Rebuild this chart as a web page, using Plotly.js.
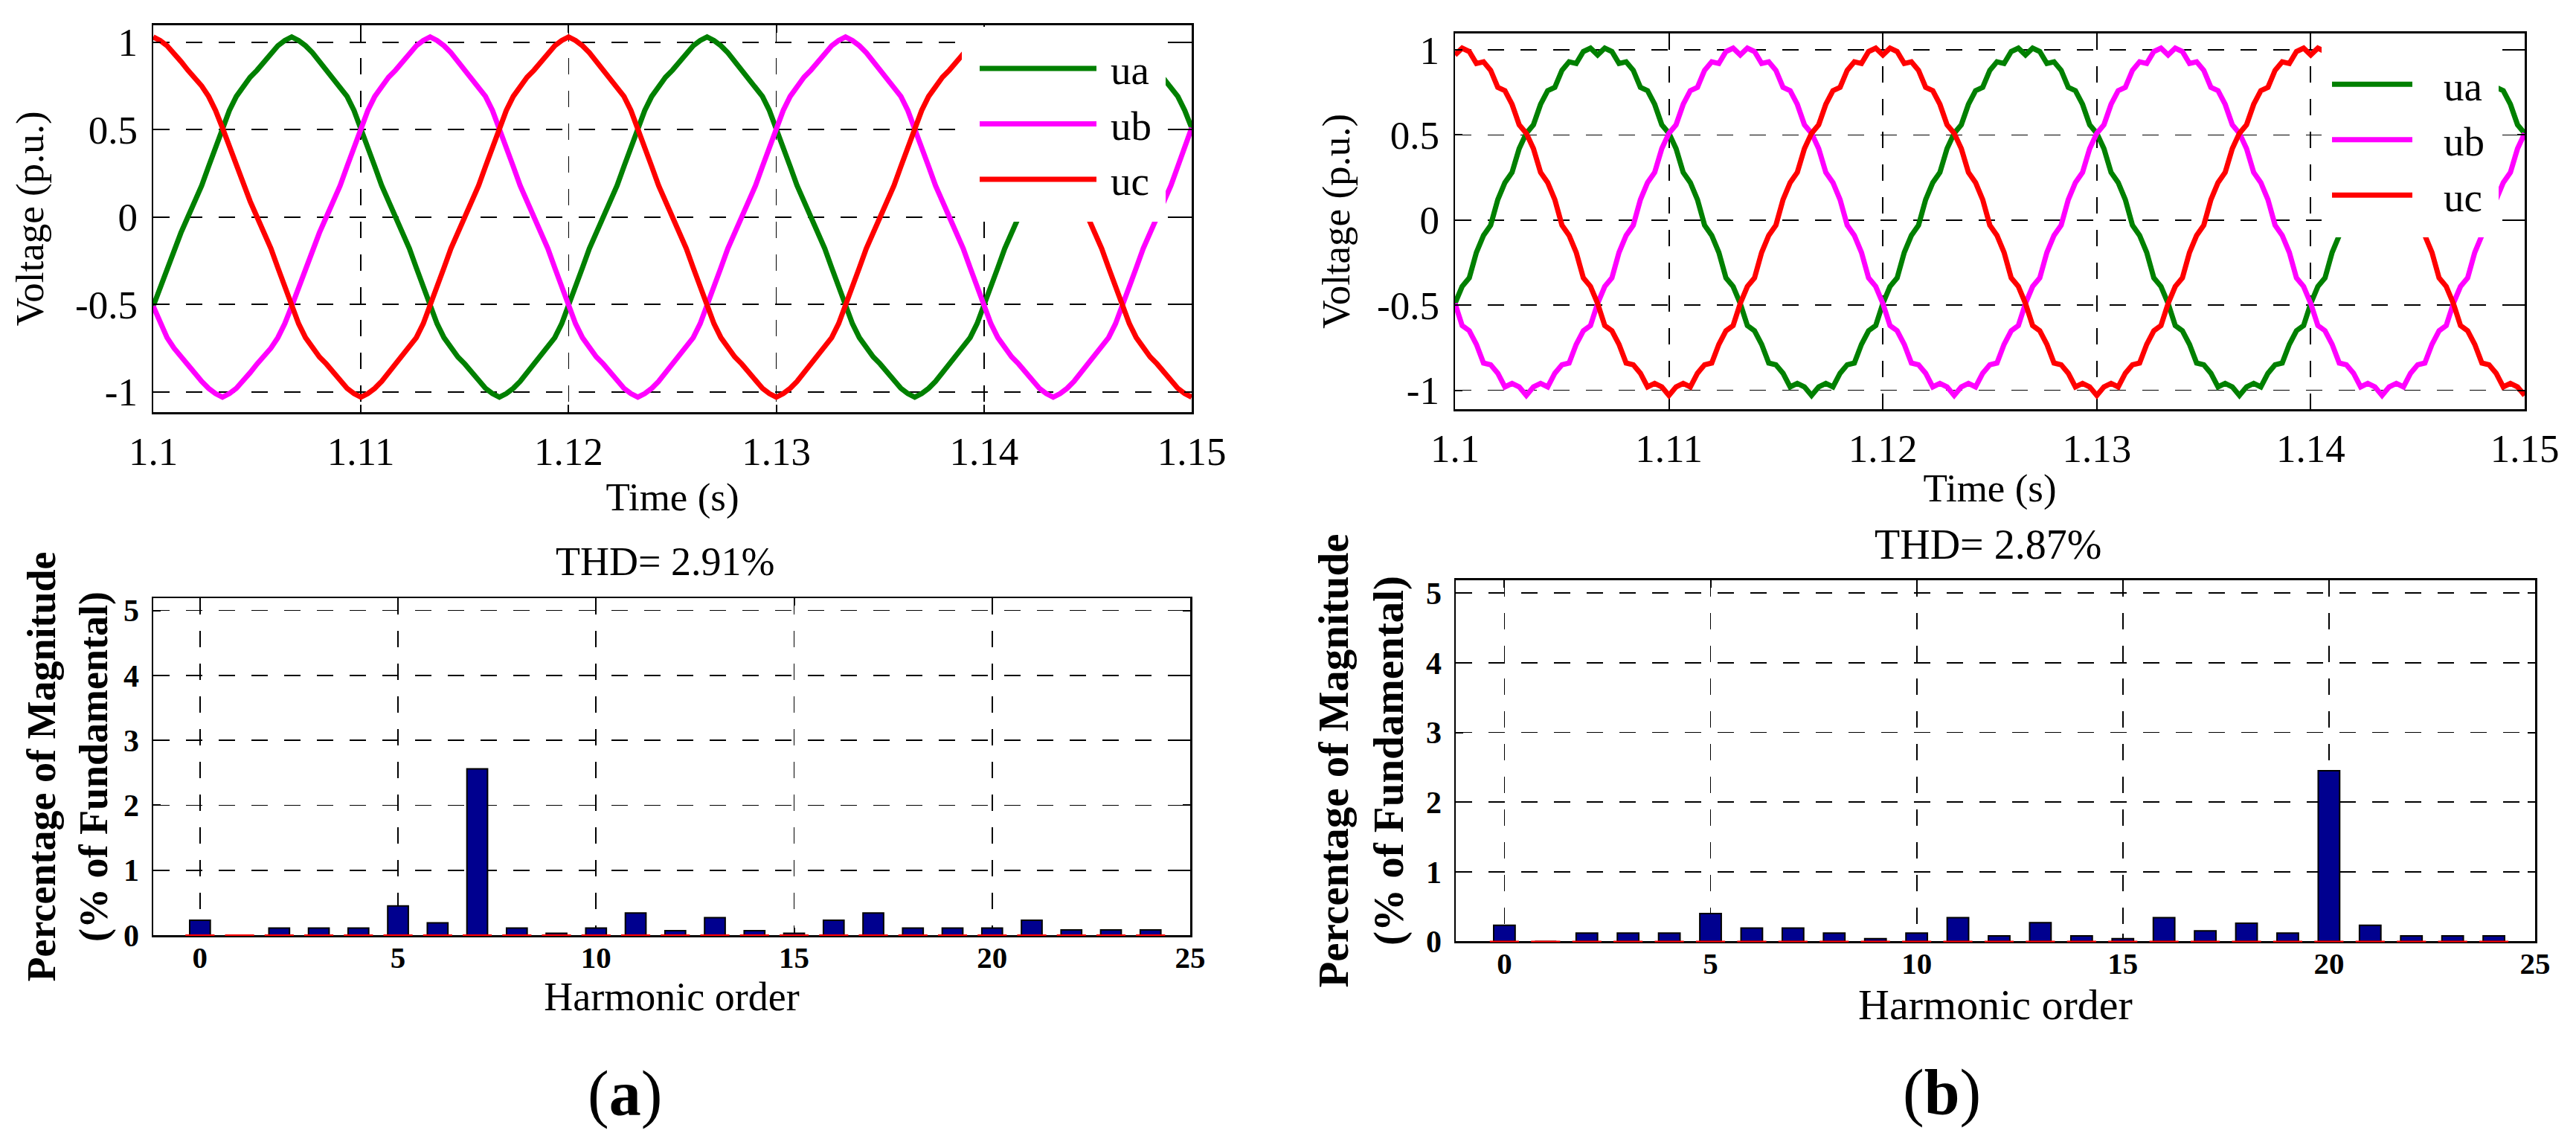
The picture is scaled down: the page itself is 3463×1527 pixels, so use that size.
<!DOCTYPE html>
<html>
<head>
<meta charset="utf-8">
<script src="https://cdn.plot.ly/plotly-3.0.1.min.js"></script>
<style>
html,body{margin:0;padding:0;background:#ffffff;}
#chart{width:3463px;height:1527px;}
</style>
</head>
<body>
<div id="chart"></div>
<script>
// ---------------- DATA ----------------
// time sampling of the voltage traces (s)
const T_START = 1.1;
const T_STEP = 1 / 3000;

// (a) three-phase voltages, p.u.
const UA_A = [-0.51,-0.40,-0.29,-0.18,-0.09,
0,0.09,0.18,0.29,0.40,0.51,0.61,0.69,0.75,0.80,0.84,0.89,0.94,0.98,1.01,1.03,1.01,0.98,0.94,0.89,0.84,0.80,0.75,0.69,0.61,0.51,0.40,0.29,0.18,0.09,
0,-0.09,-0.18,-0.29,-0.40,-0.51,-0.61,-0.69,-0.75,-0.80,-0.84,-0.89,-0.94,-0.98,-1.01,-1.03,-1.01,-0.98,-0.94,-0.89,-0.84,-0.80,-0.75,-0.69,-0.61,-0.51,-0.40,-0.29,-0.18,-0.09,
0,0.09,0.18,0.29,0.40,0.51,0.61,0.69,0.75,0.80,0.84,0.89,0.94,0.98,1.01,1.03,1.01,0.98,0.94,0.89,0.84,0.80,0.75,0.69,0.61,0.51,0.40,0.29,0.18,0.09,
0,-0.09,-0.18,-0.29,-0.40,-0.51,-0.61,-0.69,-0.75,-0.80,-0.84,-0.89,-0.94,-0.98,-1.01,-1.03,-1.01,-0.98,-0.94,-0.89,-0.84,-0.80,-0.75,-0.69,-0.61,-0.51,-0.40,-0.29,-0.18,-0.09,
0,0.09,0.18,0.29,0.40,0.51,0.61,0.69,0.75,0.80,0.84,0.89,0.94,0.98,1.01,1.03,1.01,0.98,0.94,0.89,0.84,0.80,0.75,0.69,0.61,0.51];

const UB_A = [-0.51,-0.61,-0.69,-0.75,-0.80,-0.84,-0.89,-0.94,-0.98,-1.01,-1.03,-1.01,-0.98,-0.94,-0.89,-0.84,-0.80,-0.75,-0.69,-0.61,-0.51,-0.40,-0.29,-0.18,-0.09,
0,0.09,0.18,0.29,0.40,0.51,0.61,0.69,0.75,0.80,0.84,0.89,0.94,0.98,1.01,1.03,1.01,0.98,0.94,0.89,0.84,0.80,0.75,0.69,0.61,0.51,0.40,0.29,0.18,0.09,
0,-0.09,-0.18,-0.29,-0.40,-0.51,-0.61,-0.69,-0.75,-0.80,-0.84,-0.89,-0.94,-0.98,-1.01,-1.03,-1.01,-0.98,-0.94,-0.89,-0.84,-0.80,-0.75,-0.69,-0.61,-0.51,-0.40,-0.29,-0.18,-0.09,
0,0.09,0.18,0.29,0.40,0.51,0.61,0.69,0.75,0.80,0.84,0.89,0.94,0.98,1.01,1.03,1.01,0.98,0.94,0.89,0.84,0.80,0.75,0.69,0.61,0.51,0.40,0.29,0.18,0.09,
0,-0.09,-0.18,-0.29,-0.40,-0.51,-0.61,-0.69,-0.75,-0.80,-0.84,-0.89,-0.94,-0.98,-1.01,-1.03,-1.01,-0.98,-0.94,-0.89,-0.84,-0.80,-0.75,-0.69,-0.61,-0.51,-0.40,-0.29,-0.18,-0.09,
0,0.09,0.18,0.29,0.40,0.51];

const UC_A = [1.03,1.01,0.98,0.94,0.89,0.84,0.80,0.75,0.69,0.61,0.51,0.40,0.29,0.18,0.09,
0,-0.09,-0.18,-0.29,-0.40,-0.51,-0.61,-0.69,-0.75,-0.80,-0.84,-0.89,-0.94,-0.98,-1.01,-1.03,-1.01,-0.98,-0.94,-0.89,-0.84,-0.80,-0.75,-0.69,-0.61,-0.51,-0.40,-0.29,-0.18,-0.09,
0,0.09,0.18,0.29,0.40,0.51,0.61,0.69,0.75,0.80,0.84,0.89,0.94,0.98,1.01,1.03,1.01,0.98,0.94,0.89,0.84,0.80,0.75,0.69,0.61,0.51,0.40,0.29,0.18,0.09,
0,-0.09,-0.18,-0.29,-0.40,-0.51,-0.61,-0.69,-0.75,-0.80,-0.84,-0.89,-0.94,-0.98,-1.01,-1.03,-1.01,-0.98,-0.94,-0.89,-0.84,-0.80,-0.75,-0.69,-0.61,-0.51,-0.40,-0.29,-0.18,-0.09,
0,0.09,0.18,0.29,0.40,0.51,0.61,0.69,0.75,0.80,0.84,0.89,0.94,0.98,1.01,1.03,1.01,0.98,0.94,0.89,0.84,0.80,0.75,0.69,0.61,0.51,0.40,0.29,0.18,0.09,
0,-0.09,-0.18,-0.29,-0.40,-0.51,-0.61,-0.69,-0.75,-0.80,-0.84,-0.89,-0.94,-0.98,-1.01,-1.03];

// (b) three-phase voltages with the 20th-harmonic ripple, p.u.
const UA_B = [-0.49,-0.39,-0.34,-0.19,-0.09,
-0.03,0.12,0.22,0.28,0.42,0.51,0.56,0.68,0.76,0.78,0.88,0.93,0.92,0.99,1.01,0.97,1.01,0.99,0.92,0.93,0.88,0.78,0.76,0.68,0.56,0.51,0.42,0.28,0.22,0.12,
-0.03,-0.09,-0.19,-0.34,-0.39,-0.49,-0.62,-0.65,-0.73,-0.84,-0.85,-0.90,-0.98,-0.96,-0.98,-1.03,-0.98,-0.96,-0.98,-0.90,-0.85,-0.84,-0.73,-0.65,-0.62,-0.49,-0.39,-0.34,-0.19,-0.09,
-0.03,0.12,0.22,0.28,0.42,0.51,0.56,0.68,0.76,0.78,0.88,0.93,0.92,0.99,1.01,0.97,1.01,0.99,0.92,0.93,0.88,0.78,0.76,0.68,0.56,0.51,0.42,0.28,0.22,0.12,
-0.03,-0.09,-0.19,-0.34,-0.39,-0.49,-0.62,-0.65,-0.73,-0.84,-0.85,-0.90,-0.98,-0.96,-0.98,-1.03,-0.98,-0.96,-0.98,-0.90,-0.85,-0.84,-0.73,-0.65,-0.62,-0.49,-0.39,-0.34,-0.19,-0.09,
-0.03,0.12,0.22,0.28,0.42,0.51,0.56,0.68,0.76,0.78,0.88,0.93,0.92,0.99,1.01,0.97,1.01,0.99,0.92,0.93,0.88,0.78,0.76,0.68,0.56,0.51];

const UB_B = [-0.49,-0.62,-0.65,-0.73,-0.84,-0.85,-0.90,-0.98,-0.96,-0.98,-1.03,-0.98,-0.96,-0.98,-0.90,-0.85,-0.84,-0.73,-0.65,-0.62,-0.49,-0.39,-0.34,-0.19,-0.09,
-0.03,0.12,0.22,0.28,0.42,0.51,0.56,0.68,0.76,0.78,0.88,0.93,0.92,0.99,1.01,0.97,1.01,0.99,0.92,0.93,0.88,0.78,0.76,0.68,0.56,0.51,0.42,0.28,0.22,0.12,
-0.03,-0.09,-0.19,-0.34,-0.39,-0.49,-0.62,-0.65,-0.73,-0.84,-0.85,-0.90,-0.98,-0.96,-0.98,-1.03,-0.98,-0.96,-0.98,-0.90,-0.85,-0.84,-0.73,-0.65,-0.62,-0.49,-0.39,-0.34,-0.19,-0.09,
-0.03,0.12,0.22,0.28,0.42,0.51,0.56,0.68,0.76,0.78,0.88,0.93,0.92,0.99,1.01,0.97,1.01,0.99,0.92,0.93,0.88,0.78,0.76,0.68,0.56,0.51,0.42,0.28,0.22,0.12,
-0.03,-0.09,-0.19,-0.34,-0.39,-0.49,-0.62,-0.65,-0.73,-0.84,-0.85,-0.90,-0.98,-0.96,-0.98,-1.03,-0.98,-0.96,-0.98,-0.90,-0.85,-0.84,-0.73,-0.65,-0.62,-0.49,-0.39,-0.34,-0.19,-0.09,
-0.03,0.12,0.22,0.28,0.42,0.51];

const UC_B = [0.97,1.01,0.99,0.92,0.93,0.88,0.78,0.76,0.68,0.56,0.51,0.42,0.28,0.22,0.12,
-0.03,-0.09,-0.19,-0.34,-0.39,-0.49,-0.62,-0.65,-0.73,-0.84,-0.85,-0.90,-0.98,-0.96,-0.98,-1.03,-0.98,-0.96,-0.98,-0.90,-0.85,-0.84,-0.73,-0.65,-0.62,-0.49,-0.39,-0.34,-0.19,-0.09,
-0.03,0.12,0.22,0.28,0.42,0.51,0.56,0.68,0.76,0.78,0.88,0.93,0.92,0.99,1.01,0.97,1.01,0.99,0.92,0.93,0.88,0.78,0.76,0.68,0.56,0.51,0.42,0.28,0.22,0.12,
-0.03,-0.09,-0.19,-0.34,-0.39,-0.49,-0.62,-0.65,-0.73,-0.84,-0.85,-0.90,-0.98,-0.96,-0.98,-1.03,-0.98,-0.96,-0.98,-0.90,-0.85,-0.84,-0.73,-0.65,-0.62,-0.49,-0.39,-0.34,-0.19,-0.09,
-0.03,0.12,0.22,0.28,0.42,0.51,0.56,0.68,0.76,0.78,0.88,0.93,0.92,0.99,1.01,0.97,1.01,0.99,0.92,0.93,0.88,0.78,0.76,0.68,0.56,0.51,0.42,0.28,0.22,0.12,
-0.03,-0.09,-0.19,-0.34,-0.39,-0.49,-0.62,-0.65,-0.73,-0.84,-0.85,-0.90,-0.98,-0.96,-0.98,-1.03];

// harmonic spectra (% of fundamental)
const HARMONICS = [0,1,2,3,4,5,6,7,8,9,10,11,12,13,14,15,16,17,18,19,20,21,22,23,24];
const MAG_A = [0.23,0,0.11,0.11,0.11,0.45,0.19,2.56,0.11,0.03,0.11,0.34,0.07,0.27,0.07,0.03,0.23,0.34,0.11,0.11,0.11,0.23,0.08,0.08,0.08];
const MAG_B = [0.23,0,0.12,0.12,0.12,0.40,0.19,0.19,0.12,0.04,0.12,0.34,0.08,0.27,0.08,0.04,0.34,0.15,0.26,0.12,2.45,0.23,0.08,0.08,0.08];
const BASELINE = [0,0,0,0,0,0,0,0,0,0,0,0,0,0,0,0,0,0,0,0,0,0,0,0,0];

const PHASE_NAMES = ['ua','ub','uc'];
const THD_A = 'THD= 2.91%';
const THD_B = 'THD= 2.87%';

const TIME_TICKS = [1.1,1.11,1.12,1.13,1.14,1.15];
const TIME_TICK_LABELS = ['1.1','1.11','1.12','1.13','1.14','1.15'];
const VOLT_TICKS = [-1,-0.5,0,0.5,1];
const VOLT_TICK_LABELS = ['-1','-0.5','0','0.5','1'];
const ORDER_TICKS = [0,5,10,15,20,25];
const PCT_TICKS = [0,1,2,3,4,5];

// ---------------- STYLE ----------------
const W = 3463, H = 1527;
const SERIF = 'Liberation Serif, Times New Roman, serif';
const COLORS = ['#008000','#ff00ff','#ff0000'];
const BAR_COLOR = '#00008f';
const px = v => v / W;
const py = v => 1 - v / H;

// where the legend parts sit in the original figure (pixels)
const LEGEND_TARGETS = {
  legend:  {textX: 1493, itemY: 92,  swatchX: 1317, swatchLen: 157},
  legend2: {textX: 3290, itemY: 112, swatchX: 3127, swatchLen: 116}
};

const common = {
  showline: true, linecolor: '#000', linewidth: 2.5, mirror: 'ticks',
  ticks: 'inside', ticklen: 10, tickwidth: 2, tickcolor: '#000',
  showgrid: true, gridcolor: '#000', gridwidth: 1.8, griddash: '22px,22px',
  zeroline: false, fixedrange: true, automargin: false
};

function lineTrace(y, i, xa, ya, legendId) {
  return {
    type: 'scatter', mode: 'lines', x0: T_START, dx: T_STEP, y: y,
    name: PHASE_NAMES[i], xaxis: xa, yaxis: ya, legend: legendId,
    line: {color: COLORS[i], width: 7}, hoverinfo: 'skip'
  };
}
function barTrace(vals, xa, ya) {
  return {
    type: 'bar', x: HARMONICS, y: vals, xaxis: xa, yaxis: ya, width: 0.52,
    marker: {color: BAR_COLOR, line: {color: '#000', width: 2}},
    showlegend: false, hoverinfo: 'skip'
  };
}
function baseTrace(xa, ya) {
  return {
    type: 'scatter', mode: 'markers', x: HARMONICS, y: BASELINE, xaxis: xa, yaxis: ya,
    marker: {symbol: 'line-ew', size: 28, color: '#ff0000', line: {color: '#ff0000', width: 2}},
    showlegend: false, hoverinfo: 'skip', cliponaxis: false
  };
}

const data = [
  lineTrace(UA_A, 0, 'x', 'y', 'legend'),
  lineTrace(UB_A, 1, 'x', 'y', 'legend'),
  lineTrace(UC_A, 2, 'x', 'y', 'legend'),
  barTrace(MAG_A, 'x2', 'y2'),
  baseTrace('x2', 'y2'),
  lineTrace(UA_B, 0, 'x3', 'y3', 'legend2'),
  lineTrace(UB_B, 1, 'x3', 'y3', 'legend2'),
  lineTrace(UC_B, 2, 'x3', 'y3', 'legend2'),
  barTrace(MAG_B, 'x4', 'y4'),
  baseTrace('x4', 'y4')
];

function timeAxis(dom, anchor, standoff) {
  return Object.assign({}, common, {
    domain: dom, anchor: anchor, range: [1.1, 1.15],
    tickmode: 'array', tickvals: TIME_TICKS, ticktext: TIME_TICK_LABELS,
    tickfont: {family: SERIF, size: 53, color: '#000'}, ticklabelstandoff: 5,
    title: {text: 'Time (s)', font: {family: SERIF, size: 53, color: '#000'}, standoff: standoff}
  });
}
function voltAxis(dom, anchor, rng, standoff) {
  return Object.assign({}, common, {
    domain: dom, anchor: anchor, range: rng,
    tickmode: 'array', tickvals: VOLT_TICKS, ticktext: VOLT_TICK_LABELS,
    tickfont: {family: SERIF, size: 53, color: '#000'}, ticklabelstandoff: 8,
    title: {text: 'Voltage (p.u.)', font: {family: SERIF, size: 53, color: '#000'}, standoff: standoff}
  });
}
function orderAxis(dom, anchor, fs, standoff) {
  return Object.assign({}, common, {
    domain: dom, anchor: anchor, range: [-1.18, 25], layer: 'below traces',
    tickmode: 'array', tickvals: ORDER_TICKS,
    tickfont: {family: SERIF, size: 41, color: '#000', weight: 'bold'}, ticklabelstandoff: -8,
    title: {text: 'Harmonic order', font: {family: SERIF, size: fs, color: '#000'}, standoff: standoff}
  });
}
function pctAxis(dom, anchor, fs, standoff) {
  return Object.assign({}, common, {
    domain: dom, anchor: anchor, range: [0, 5.19],
    tickmode: 'array', tickvals: PCT_TICKS,
    tickfont: {family: SERIF, size: 42, color: '#000', weight: 'bold'}, ticklabelstandoff: 8,
    title: {text: 'Percentage of Magnitude<br>(% of Fundamental)',
            font: {family: SERIF, size: fs, color: '#000', weight: 'bold'}, standoff: standoff}
  });
}

const legendBase = {
  bgcolor: '#ffffff', bordercolor: '#ffffff', borderwidth: 14, xanchor: 'left', yanchor: 'top',
  font: {family: SERIF, size: 55, color: '#000'}, traceorder: 'normal', tracegroupgap: 0
};

const layout = {
  width: W, height: H, autosize: false,
  margin: {l: 0, r: 0, t: 0, b: 0, pad: 0},
  paper_bgcolor: '#fff', plot_bgcolor: '#fff',
  showlegend: true,
  font: {family: SERIF, color: '#000'},
  xaxis: timeAxis([px(206), px(1602)], 'y', 14),
  yaxis: voltAxis([py(554), py(33.5)], 'x', [-1.116, 1.099], 26),
  xaxis2: orderAxis([px(206), px(1600)], 'y2', 54, 8),
  yaxis2: pctAxis([py(1257), py(804)], 'x2', 54, 4),
  xaxis3: timeAxis([px(1956), px(3394)], 'y3', 6),
  yaxis3: voltAxis([py(550), py(44.6)], 'x3', [-1.111, 1.098], 20),
  xaxis4: orderAxis([px(1957), px(3408)], 'y4', 58, 3),
  yaxis4: pctAxis([py(1265.4), py(779.6)], 'x4', 57, 12),
  legend: Object.assign({}, legendBase, {x: px(1288), y: py(36), itemwidth: 176}),
  legend2: Object.assign({}, legendBase, {x: px(3121), y: py(57), itemwidth: 140}),
  annotations: [
    {text: THD_A, xref: 'paper', yref: 'paper', x: px(894), y: py(755), xanchor: 'center', yanchor: 'middle',
     showarrow: false, font: {family: SERIF, size: 54, color: '#000'}},
    {text: THD_B, xref: 'paper', yref: 'paper', x: px(2672), y: py(732), xanchor: 'center', yanchor: 'middle',
     showarrow: false, font: {family: SERIF, size: 56, color: '#000'}},
    {text: '(<b>a</b>)', xref: 'paper', yref: 'paper', x: px(840), y: py(1470), xanchor: 'center', yanchor: 'middle',
     showarrow: false, font: {family: SERIF, size: 86, color: '#000'}},
    {text: '(<b>b</b>)', xref: 'paper', yref: 'paper', x: px(2610), y: py(1468), xanchor: 'center', yanchor: 'middle',
     showarrow: false, font: {family: SERIF, size: 86, color: '#000'}}
  ]
};

const gd = document.getElementById('chart');

function measureLegend(id) {
  const lg = gd.querySelector('g.' + id);
  if (!lg) return null;
  const tr = lg.querySelector('g.traces');
  if (!tr) return null;
  const txt = tr.querySelector('text.legendtext');
  const path = tr.querySelector('.legendlines path');
  if (!txt || !path) return null;
  const g0 = gd.getBoundingClientRect();
  const tb = txt.getBoundingClientRect();
  const pb = path.getBoundingClientRect();
  return {textX: tb.left - g0.left, itemY: (pb.top + pb.bottom) / 2 - g0.top};
}

// place the legends so that their entries line up with the original figure
function alignLegends() {
  const upd = {};
  Object.keys(LEGEND_TARGETS).forEach(function (id) {
    const m = measureLegend(id);
    if (!m) return;
    const t = LEGEND_TARGETS[id];
    upd[id + '.x'] = layout[id].x + (t.textX - m.textX) / W;
    upd[id + '.y'] = layout[id].y - (t.itemY - m.itemY) / H;
  });
  return Object.keys(upd).length ? Plotly.relayout(gd, upd) : Promise.resolve();
}

// lengthen the legend line samples to match the long swatches of the original figure
function stretchLegendLines() {
  const g0 = gd.getBoundingClientRect();
  Object.keys(LEGEND_TARGETS).forEach(function (id) {
    const t = LEGEND_TARGETS[id];
    gd.querySelectorAll('g.' + id + ' g.traces').forEach(function (tr) {
      const path = tr.querySelector('.legendlines path');
      if (!path) return;
      const pb = path.getBoundingClientRect();
      const start = 5 + (t.swatchX - (pb.left - g0.left));
      path.setAttribute('d', 'M' + start.toFixed(1) + ',0h' + t.swatchLen);
    });
  });
}

Plotly.newPlot(gd, data, layout, {staticPlot: true, displayModeBar: false})
  .then(alignLegends)
  .then(stretchLegendLines);
</script>
</body>
</html>
